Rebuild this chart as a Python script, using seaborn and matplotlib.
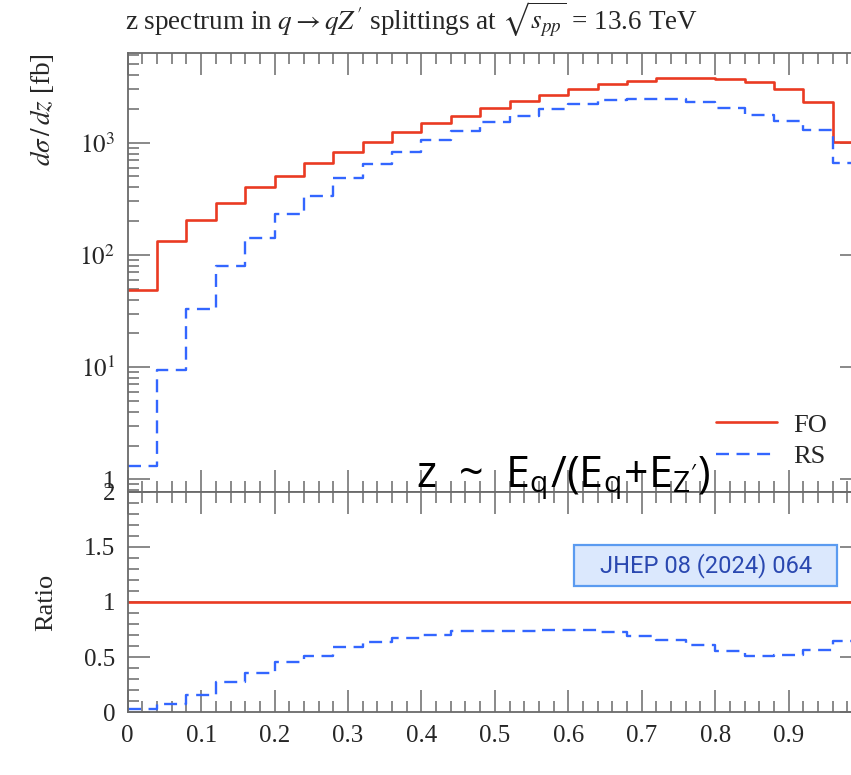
import numpy as np
import pandas as pd
import matplotlib
matplotlib.use("Agg")
import matplotlib.pyplot as plt
import seaborn as sns
from matplotlib.ticker import MultipleLocator, FixedLocator, FixedFormatter, LogLocator, NullFormatter
from matplotlib.lines import Line2D
from matplotlib.patches import Rectangle

# ---------------- data ----------------
bin_edges = [0.00, 0.04, 0.08, 0.12, 0.16, 0.20, 0.24, 0.28, 0.32, 0.36, 0.40,
             0.44, 0.48, 0.52, 0.56, 0.60, 0.64, 0.68, 0.72, 0.76, 0.80,
             0.84, 0.88, 0.92, 0.96, 1.00]
fo_values = [48.7, 133, 205, 290, 403, 505, 655, 821, 1021, 1238, 1489,
             1741, 2051, 2354, 2663, 2992, 3313, 3547, 3750, 3795, 3718,
             3474, 3013, 2290, 1008]
rs_values = [1.31, 9.42, 33.0, 79.6, 142, 232, 337, 488, 650, 831, 1050,
             1279, 1520, 1741, 1996, 2227, 2404, 2450, 2450, 2306, 2051,
             1778, 1560, 1291, 655]
series_names = ["FO", "RS"]
x_ticks = [0, 0.1, 0.2, 0.3, 0.4, 0.5, 0.6, 0.7, 0.8, 0.9]
x_tick_labels = ["0", "0.1", "0.2", "0.3", "0.4", "0.5", "0.6", "0.7", "0.8", "0.9"]
y_ticks_top = [1, 10, 100, 1000]
y_tick_labels_top = ["1", r"$10^{1}$", r"$10^{2}$", r"$10^{3}$"]
y_ticks_ratio = [0, 0.5, 1, 1.5, 2]
y_tick_labels_ratio = ["0", "0.5", "1", "1.5", "2"]

edges = np.array(bin_edges)
centers = 0.5 * (edges[:-1] + edges[1:])
fo = np.array(fo_values, dtype=float)
rs = np.array(rs_values, dtype=float)
df = pd.DataFrame({
    "z": np.concatenate([centers, centers]),
    "value": np.concatenate([fo, rs]),
    "ratio": np.concatenate([fo / fo, rs / fo]),
    "series": ["FO"] * len(fo) + ["RS"] * len(rs),
})

# ---------------- style ----------------
sns.set_theme(style="ticks")
plt.rcParams["font.family"] = ["Liberation Serif", "DejaVu Serif"]
plt.rcParams["mathtext.fontset"] = "stix"

RED = "#EA3A22"
BLUE = "#3366FF"
TICK_C = "#6a6a6a"

W, H = 851, 775
fig = plt.figure(figsize=(W / 100, H / 100), dpi=100)
fig.patch.set_facecolor("white")

def fx(px):
    return px / W

def fy(py):
    return 1 - py / H

x0, x1 = 127.7, 862.0
ax_top = fig.add_axes([fx(x0), fy(491.7), fx(x1 - x0), (491.7 - 52.7) / H])
ax_bot = fig.add_axes([fx(x0), fy(712.3), fx(x1 - x0), (712.3 - 491.7) / H])

line_kw = {"FO": dict(color=RED, linewidth=1.9, linestyle="-"),
           "RS": dict(color=BLUE, linewidth=1.7, linestyle=(0, (5.5, 3.2)))}

ax_top.set_yscale("log")
for name in series_names:
    sub = df[df["series"] == name].reset_index(drop=True)
    sns.histplot(data=sub, x="z", weights="value", bins=bin_edges, element="step",
                 fill=False, ax=ax_top, **line_kw[name])
    sns.histplot(data=sub, x="z", weights="ratio", bins=bin_edges, element="step",
                 fill=False, ax=ax_bot, **line_kw[name])

for ax in (ax_top, ax_bot):
    ax.set_xlim(0, 1)
    ax.xaxis.set_major_locator(FixedLocator(x_ticks))
    ax.xaxis.set_minor_locator(MultipleLocator(0.02))
    ax.tick_params(which="both", direction="in", top=True, right=True,
                   color=TICK_C, width=1.1)
    ax.tick_params(which="major", length=16)
    ax.tick_params(which="minor", length=8)
    for sp in ax.spines.values():
        sp.set_color(TICK_C)
        sp.set_linewidth(1.3)
    ax.set_ylabel("")
    ax.set_facecolor("white")

ax_top.set_ylim(0.775, 6340)
ax_top.yaxis.set_major_locator(FixedLocator(y_ticks_top))
ax_top.yaxis.set_major_formatter(FixedFormatter(y_tick_labels_top))
ax_top.yaxis.set_minor_locator(LogLocator(base=10, subs=np.arange(2, 10)))
ax_top.yaxis.set_minor_formatter(NullFormatter())
ax_top.tick_params(axis="x", labelbottom=False)
ax_top.tick_params(axis="y", labelsize=18, pad=9)
ax_top.set_xlabel("")

ax_bot.set_ylim(0, 2)
ax_bot.yaxis.set_major_locator(FixedLocator(y_ticks_ratio))
ax_bot.yaxis.set_major_formatter(FixedFormatter(y_tick_labels_ratio))
ax_bot.yaxis.set_minor_locator(MultipleLocator(0.1))
ax_bot.xaxis.set_major_formatter(FixedFormatter(x_tick_labels))
ax_bot.tick_params(axis="both", labelsize=18)
ax_bot.tick_params(axis="y", pad=9)
ax_bot.tick_params(axis="x", pad=9)
ax_bot.set_xlabel(r"$z$", loc="right", fontsize=18, labelpad=12)

# Legend
handles = [Line2D([], [], **line_kw[n]) for n in series_names]
fig.legend(handles, series_names, loc="upper left",
           bbox_to_anchor=(fx(703), fy(400)), frameon=False, fontsize=19,
           handlelength=2.3, handletextpad=0.6, labelspacing=0.3, borderpad=0)

# Title and axis labels
fig.text(fx(125), fy(30), r"z spectrum in $q \rightarrow qZ'$ splittings at $\sqrt{s_{pp}}$ = 13.6 TeV",
         ha="left", va="baseline", fontsize=19.5)
fig.text(fx(42), fy(53), r"$d\sigma\,/\,dz$ [fb]", rotation=90, ha="center", va="top", fontsize=19.5)
fig.text(fx(46), fy(602), "Ratio", rotation=90, ha="center", va="center", fontsize=19)

# Overlay annotation
fig.text(fx(416), fy(487), r"z  ~  E$_\mathregular{q}$/(E$_\mathregular{q}$+E$_\mathregular{Z'}$)",
         ha="left", va="baseline", fontsize=31, family="Open Sans", color="black")

# Badge
fig.patches.append(Rectangle((fx(574), fy(586)), fx(837 - 574), (586 - 545) / H,
                             transform=fig.transFigure, facecolor="#dbe8fd",
                             edgecolor="#5b9bf0", linewidth=1.6, zorder=5))
fig.text(fx(706), fy(566), "JHEP 08 (2024) 064", ha="center", va="center",
         fontsize=17, family="Roboto", color="#2a48b0", zorder=6)

fig.savefig("out.png", dpi=100)
